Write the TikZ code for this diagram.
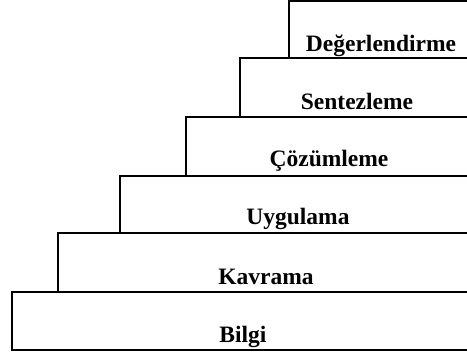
\documentclass[tikz,border=0pt]{standalone}
\usepackage{fontspec}
\setmainfont{Liberation Serif}
\begin{document}
\begin{tikzpicture}[x=1pt,y=1pt,
  stepedge/.style={draw=black,line width=2.2pt},
  steplabel/.style={anchor=base,inner sep=0pt,font=\fontsize{23.5}{26}\selectfont\bfseries}]
\useasboundingbox (0,0) rectangle (467,356);
\clip (0,0) rectangle (467,356);
% steps: left x, top y, bottom y
\draw[stepedge] (480,355) -- (289,355) -- (289,298) -- (480,298);
\draw[stepedge] (480,298) -- (240,298) -- (240,239) -- (480,239);
\draw[stepedge] (480,239) -- (186,239) -- (186,180) -- (480,180);
\draw[stepedge] (480,180) -- (120,180) -- (120,123) -- (480,123);
\draw[stepedge] (480,123) -- (58,123) -- (58,64) -- (480,64);
\draw[stepedge] (480,64) -- (12,64) -- (12,6) -- (480,6);
\node[steplabel] (deg) at (381,304) {Değerlendirme};
\node[steplabel] (sen) at (357,246) {Sentezleme};
\node[steplabel] (coz) at (329,189) {Çözümleme};
\node[steplabel] (uyg) at (298,131) {Uygulama};
\node[steplabel] (kav) at (266,71) {Kavrama};
\node[steplabel] (bil) at (243,13) {Bilgi};
\end{tikzpicture}
\end{document}
